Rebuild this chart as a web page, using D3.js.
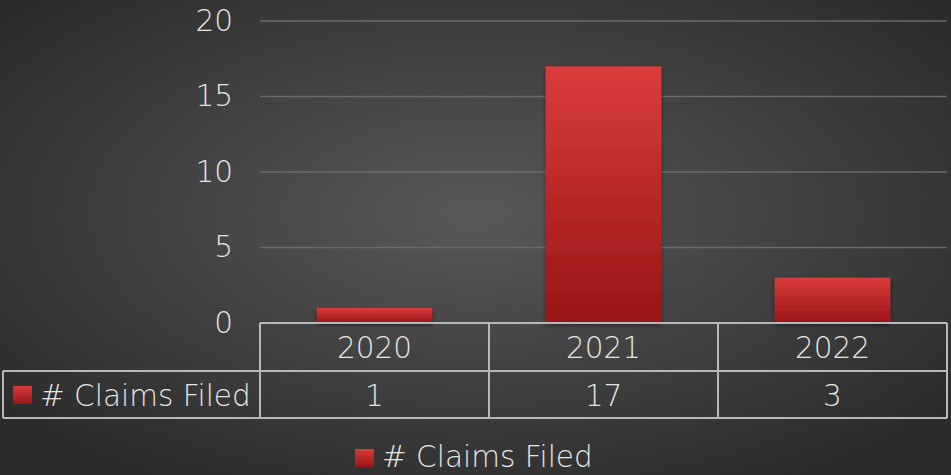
<!DOCTYPE html>
<html>
<head>
<meta charset="utf-8">
<script src="https://cdn.jsdelivr.net/npm/d3@7"></script>
<style>
  html, body { margin: 0; padding: 0; background: #333; }
  svg { display: block; }
</style>
</head>
<body>
<div id="chart"></div>
<script>
// chart data
const years = ["2020", "2021", "2022"];
const claims = [1, 17, 3];
const yTicks = [0, 5, 10, 15, 20];
const seriesName = "# Claims Filed";

let width = 951,
    height = 475;

let font = "'DejaVu Sans', sans-serif";
let fontWeight = 200;
let fontSize = "29.5px";
let textColor = "#e4e4e4";

let svg = d3.select("#chart")
    .append("svg")
    .attr("width", width)
    .attr("height", height);

let defs = svg.append("defs");

// background glow, lighter in the middle
let bg = defs.append("radialGradient")
    .attr("id", "bg")
    .attr("cx", "50%").attr("cy", "45%").attr("r", "65%");
bg.append("stop").attr("offset", "0%").attr("stop-color", "#595959");
bg.append("stop").attr("offset", "100%").attr("stop-color", "#2b2b2b");

let barFill = defs.append("linearGradient")
    .attr("id", "barFill")
    .attr("x1", 0).attr("y1", 0).attr("x2", 0).attr("y2", 1);
barFill.append("stop").attr("offset", "0%").attr("stop-color", "#da3c3c");
barFill.append("stop").attr("offset", "100%").attr("stop-color", "#991515");

let keyFill = defs.append("linearGradient")
    .attr("id", "keyFill")
    .attr("x1", 0).attr("y1", 0).attr("x2", 0).attr("y2", 1);
keyFill.append("stop").attr("offset", "0%").attr("stop-color", "#d83a3a");
keyFill.append("stop").attr("offset", "100%").attr("stop-color", "#9a1616");

let shadow = defs.append("filter").attr("id", "shadow")
    .attr("x", "-10%").attr("y", "-10%").attr("width", "120%").attr("height", "130%");
shadow.append("feDropShadow")
    .attr("dx", 0).attr("dy", 2).attr("stdDeviation", 2)
    .attr("flood-color", "#000").attr("flood-opacity", 0.5);

svg.append("rect")
    .attr("width", width).attr("height", height)
    .attr("fill", "url(#bg)");

let plotLeft = 260,
    plotRight = 947,
    plotTop = 21,
    plotBottom = 323;

let x = d3.scaleBand()
    .domain(years)
    .range([plotLeft, plotRight])
    .paddingInner(0)
    .paddingOuter(0);

let y = d3.scaleLinear()
    .domain([0, 20])
    .range([plotBottom, plotTop]);

function styleText(sel) {
    sel.attr("fill", textColor)
        .style("font-family", font)
        .style("font-weight", fontWeight)
        .style("font-size", fontSize);
}

// gridlines
svg.append("g")
    .selectAll("line")
    .data(yTicks.filter(d => d > 0))
    .enter().append("line")
    .attr("x1", plotLeft).attr("x2", plotRight)
    .attr("y1", d => y(d)).attr("y2", d => y(d))
    .attr("stroke", "#6a6a6a")
    .attr("stroke-width", 1.5);

// y axis labels
let yAxis = d3.axisLeft(y).tickValues(yTicks).tickSize(0).tickPadding(27);
let yg = svg.append("g")
    .attr("transform", "translate(" + plotLeft + ",0)")
    .call(yAxis);
yg.select(".domain").remove();
yg.selectAll("text").call(styleText);

// bars
let barW = x.bandwidth() * 0.505;
svg.append("g")
    .selectAll("rect")
    .data(claims)
    .enter().append("rect")
    .attr("x", (d, i) => x(years[i]) + (x.bandwidth() - barW) / 2)
    .attr("y", d => y(d))
    .attr("width", barW)
    .attr("height", d => y(0) - y(d))
    .attr("fill", "url(#barFill)")
    .attr("filter", "url(#shadow)");

// data table
let rowH = 48;
let row1 = plotBottom,
    row2 = plotBottom + rowH,
    row3 = plotBottom + rowH * 2 - 1;
let tableLeft = 3;
let lineColor = "#b8b8b8";
let table = svg.append("g")
    .attr("stroke", lineColor)
    .attr("stroke-width", 2)
    .attr("fill", "none");

table.append("line").attr("x1", plotLeft).attr("x2", plotRight).attr("y1", row1).attr("y2", row1);
table.append("line").attr("x1", tableLeft).attr("x2", plotRight).attr("y1", row2).attr("y2", row2);
table.append("line").attr("x1", tableLeft).attr("x2", plotRight).attr("y1", row3).attr("y2", row3);
table.append("line").attr("x1", tableLeft).attr("x2", tableLeft).attr("y1", row2).attr("y2", row3);
table.selectAll(".col")
    .data(years.concat(["end"]))
    .enter().append("line")
    .attr("class", "col")
    .attr("x1", (d, i) => i < years.length ? x(d) : plotRight)
    .attr("x2", (d, i) => i < years.length ? x(d) : plotRight)
    .attr("y1", row1).attr("y2", row3);

svg.append("g")
    .selectAll("text")
    .data(years)
    .enter().append("text")
    .attr("x", d => x(d) + x.bandwidth() / 2)
    .attr("y", (row1 + row2) / 2 + 11)
    .attr("text-anchor", "middle")
    .call(styleText)
    .text(d => d);

svg.append("g")
    .selectAll("text")
    .data(claims)
    .enter().append("text")
    .attr("x", (d, i) => x(years[i]) + x.bandwidth() / 2)
    .attr("y", (row2 + row3) / 2 + 11)
    .attr("text-anchor", "middle")
    .call(styleText)
    .text(d => d);

// series key in table
svg.append("rect")
    .attr("x", 13).attr("y", 386).attr("width", 19).attr("height", 18)
    .attr("fill", "url(#keyFill)");
svg.append("text")
    .attr("x", 40)
    .attr("y", (row2 + row3) / 2 + 11)
    .call(styleText)
    .text(seriesName);

// bottom legend
let legend = svg.append("g").attr("transform", "translate(355,449)");
legend.append("rect")
    .attr("width", 19).attr("height", 18)
    .attr("fill", "url(#keyFill)");
legend.append("text")
    .attr("x", 27).attr("y", 18)
    .call(styleText)
    .text(seriesName);
</script>
</body>
</html>
